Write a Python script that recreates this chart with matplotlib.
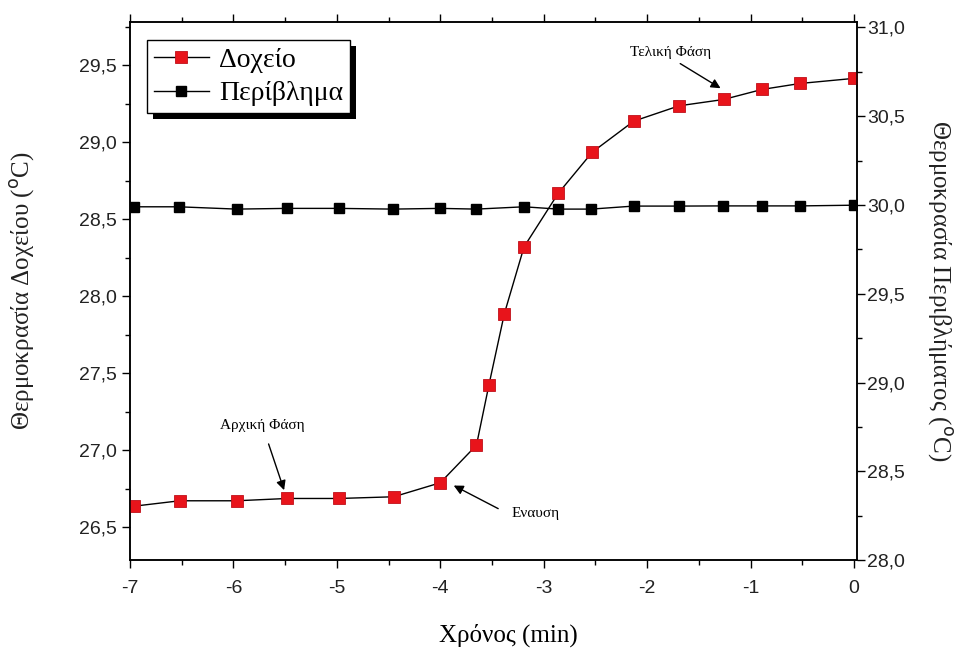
"""Tank vs. enclosure temperature during ignition (twin y axes).

Left axis  : tank temperature (red squares)
Right axis : enclosure temperature (black squares)
Output     : out.png (963x652)
"""
import matplotlib.pyplot as plt
import matplotlib.ticker as mticker
from matplotlib.patches import Rectangle
from matplotlib.transforms import IdentityTransform

# ---- data --------------------------------------------------------------------

tank_t = [-6.96, -6.52, -5.97, -5.48, -4.98, -4.45, -4.00, -3.65, -3.53, -3.38,
          -3.19, -2.86, -2.53, -2.13, -1.69, -1.26, -0.89, -0.52, 0.0]
tank_temp = [26.636, 26.671, 26.671, 26.686, 26.686, 26.697, 26.788, 27.032, 27.422,
             27.887, 28.320, 28.667, 28.935, 29.136, 29.236, 29.277, 29.342,
             29.381, 29.414]

env_t = [-6.96, -6.53, -5.97, -5.48, -4.98, -4.46, -4.00, -3.65, -3.19, -2.86,
         -2.54, -2.13, -1.69, -1.27, -0.89, -0.52, 0.0]
env_temp = [29.990, 29.990, 29.977, 29.981, 29.981, 29.977, 29.981, 29.977, 29.990,
            29.977, 29.977, 29.994, 29.994, 29.995, 29.995, 29.995, 29.999]

series_labels = ["Δοχείο", "Περίβλημα"]
xlabel = "Χρόνος (min)"
ylabel_left = "Θερμοκρασία Δοχείου ($^{\\mathrm{o}}$C)"
ylabel_right = "Θερμοκρασία Περιβλήματος ($^{\\mathrm{o}}$C)"

# annotations: text, text position (x, y_left), arrow tail, arrow head
notes = [
    ("Τελική Φάση", (-1.77, 29.58), (-1.68, 29.51), (-1.29, 29.35)),
    ("Αρχική Φάση", (-5.72, 27.16), (-5.66, 27.04), (-5.51, 26.74)),
    ("Εναυση", (-3.08, 26.59), (-3.44, 26.62), (-3.87, 26.77)),
]

SERIF = ["Liberation Serif", "DejaVu Serif"]
SANS = ["Liberation Sans", "DejaVu Sans"]


def _comma(v, _pos):
    return f"{v:.1f}".replace(".", ",")


def _style_ticks(ax, pad=3.5):
    ax.tick_params(which="both", direction="out", labelsize=14,
                   labelcolor="#222222", pad=pad)
    ax.tick_params(which="major", length=6, width=1)
    ax.tick_params(which="minor", length=3.5, width=1)
    for lab in ax.get_xticklabels() + ax.get_yticklabels():
        lab.set_fontfamily(SANS)


def main():
    fig = plt.figure(figsize=(9.63, 6.52), dpi=100)
    ax = fig.add_axes([0.135, 0.141, 0.755, 0.825])
    ax2 = ax.twinx()

    l1, = ax.plot(tank_t, tank_temp, color="black", lw=1.0, marker="s",
                  markersize=8, markerfacecolor="#e8141b",
                  markeredgecolor="#c0101a", markeredgewidth=0.6, zorder=3)
    l2, = ax2.plot(env_t, env_temp, color="black", lw=1.0, marker="s",
                   markersize=7, markerfacecolor="black",
                   markeredgecolor="black", zorder=3)

    ax.set_xlim(-7, 0.03)
    ax.set_ylim(26.286, 29.779)
    ax2.set_ylim(28.0, 31.03)

    ax.xaxis.set_major_locator(mticker.MultipleLocator(1))
    ax.xaxis.set_minor_locator(mticker.MultipleLocator(0.5))
    ax.yaxis.set_major_locator(mticker.MultipleLocator(0.5))
    ax.yaxis.set_minor_locator(mticker.MultipleLocator(0.25))
    ax.yaxis.set_major_formatter(mticker.FuncFormatter(_comma))
    ax2.yaxis.set_major_locator(mticker.MultipleLocator(0.5))
    ax2.yaxis.set_minor_locator(mticker.MultipleLocator(0.25))
    ax2.yaxis.set_major_formatter(mticker.FuncFormatter(_comma))
    ax.xaxis.set_major_formatter(mticker.FuncFormatter(lambda v, p: f"{v:.0f}"))

    # ticks on top too, no labels
    ax.tick_params(axis="x", which="both", top=True, labeltop=False)
    _style_ticks(ax)
    ax.tick_params(axis="x", pad=8)
    _style_ticks(ax2, pad=1.5)

    for a in (ax, ax2):
        for sp in a.spines.values():
            sp.set_linewidth(1.1)

    ax.set_xlabel(xlabel, fontsize=18, family=SERIF)
    ax.xaxis.set_label_coords(0.52, -0.118)
    ax.set_ylabel(ylabel_left, fontsize=18, family=SERIF, labelpad=30,
                  color="#222222")
    ax2.set_ylabel(ylabel_right, fontsize=18, family=SERIF, rotation=270,
                   va="bottom", labelpad=14, color="#222222")

    for text, xy_text, tail, head in notes:
        ax.text(*xy_text, text, fontsize=11, family=SERIF, ha="center",
                va="center", zorder=6)
        ax.annotate("", xy=head, xytext=tail,
                    arrowprops=dict(arrowstyle="-|>", color="black", lw=1.0,
                                    mutation_scale=14, shrinkA=0, shrinkB=0),
                    zorder=6)

    leg = ax2.legend([l1, l2], series_labels, loc="upper left",
                     bbox_to_anchor=(0.023, 0.9665), borderaxespad=0,
                     fancybox=False, framealpha=1, edgecolor="black",
                     handlelength=2.0, borderpad=0.25, labelspacing=0.3,
                     handletextpad=0.35, prop=dict(family=SERIF, size=20))
    leg.get_frame().set_linewidth(1.0)
    leg.set_zorder(10)

    # solid black drop shadow behind the legend box
    fig.canvas.draw()
    bb = leg.get_window_extent()
    shadow = Rectangle((bb.x0 + 6, bb.y0 - 6), bb.width, bb.height,
                       transform=IdentityTransform(), facecolor="black",
                       edgecolor="none", zorder=9, clip_on=False)
    ax2.add_artist(shadow)

    fig.savefig("out.png", dpi=100)
    plt.close(fig)


if __name__ == "__main__":
    main()
